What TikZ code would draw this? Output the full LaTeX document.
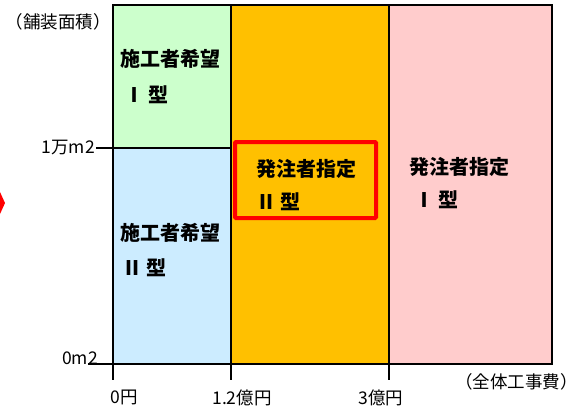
\documentclass[tikz,border=0pt]{standalone}
\usepackage{fontspec}
\setmainfont{Noto Sans CJK JP}
\definecolor{kibouI}{HTML}{CCFFCC}
\definecolor{kibouII}{HTML}{CCECFF}
\definecolor{shiteiII}{HTML}{FFC000}
\definecolor{shiteiI}{HTML}{FFCCCC}
\tikzset{
	gata/.style={anchor=west,inner sep=0pt,font=\fontsize{20}{22}\selectfont\bfseries},
	jiku/.style={inner sep=0pt,font=\fontsize{17.5}{20}\selectfont}
}

\begin{document}
\begin{tikzpicture}[x=1pt,y=-1pt]
	\useasboundingbox (0,0) rectangle (578,410);
	% areas
	\fill[kibouI] (113,5) rectangle (231,148);
	\fill[kibouII] (113,148) rectangle (231,364);
	\fill[shiteiII] (231,5) rectangle (389,364);
	\fill[shiteiI] (389,5) rectangle (552,364);
	\draw[line width=2.4pt] (113,5) rectangle (552,364);
	\draw[line width=2pt] (231,5) -- (231,364);
	\draw[line width=2pt] (389,5) -- (389,364);
	\draw[line width=2pt] (96,148) -- (231,148);
	\draw[line width=2pt] (88,364) -- (113,364);
	\foreach \x in {113,231,389}
		\draw[line width=2pt] (\x,364) -- (\x,380);
	\draw[red,line width=4pt,rounded corners=1pt] (235,142) rectangle (376,218);
	\fill[red] (0,192) -- (5,203) -- (0,214) -- cycle;
	% labels
	\node[gata] (k1) at (120,59) {施工者希望};
	\node[gata] (k1g) at (124,95) {Ⅰ 型};
	\node[gata] (k2) at (120,233) {施工者希望};
	\node[gata] (k2g) at (122,268) {Ⅱ 型};
	\node[gata] (s2) at (256,169) {発注者指定};
	\node[gata] (s2g) at (256,202) {Ⅱ 型};
	\node[gata] (s1) at (409,167) {発注者指定};
	\node[gata] (s1g) at (414,200) {Ⅰ 型};
	\node[jiku,anchor=east] (men) at (111,22) {（舗装面積）};
	\node[jiku,anchor=east] (ichiman) at (95,148) {1万m2};
	\node[jiku,anchor=east] (zero) at (98,358) {0m2};
	\node[jiku] (en0) at (124,397) {0円};
	\node[jiku] (en12) at (242,398) {1.2億円};
	\node[jiku] (en3) at (381,398) {3億円};
	\node[jiku,anchor=east] (zentai) at (578,382) {（全体工事費）};
\end{tikzpicture}
\end{document}
